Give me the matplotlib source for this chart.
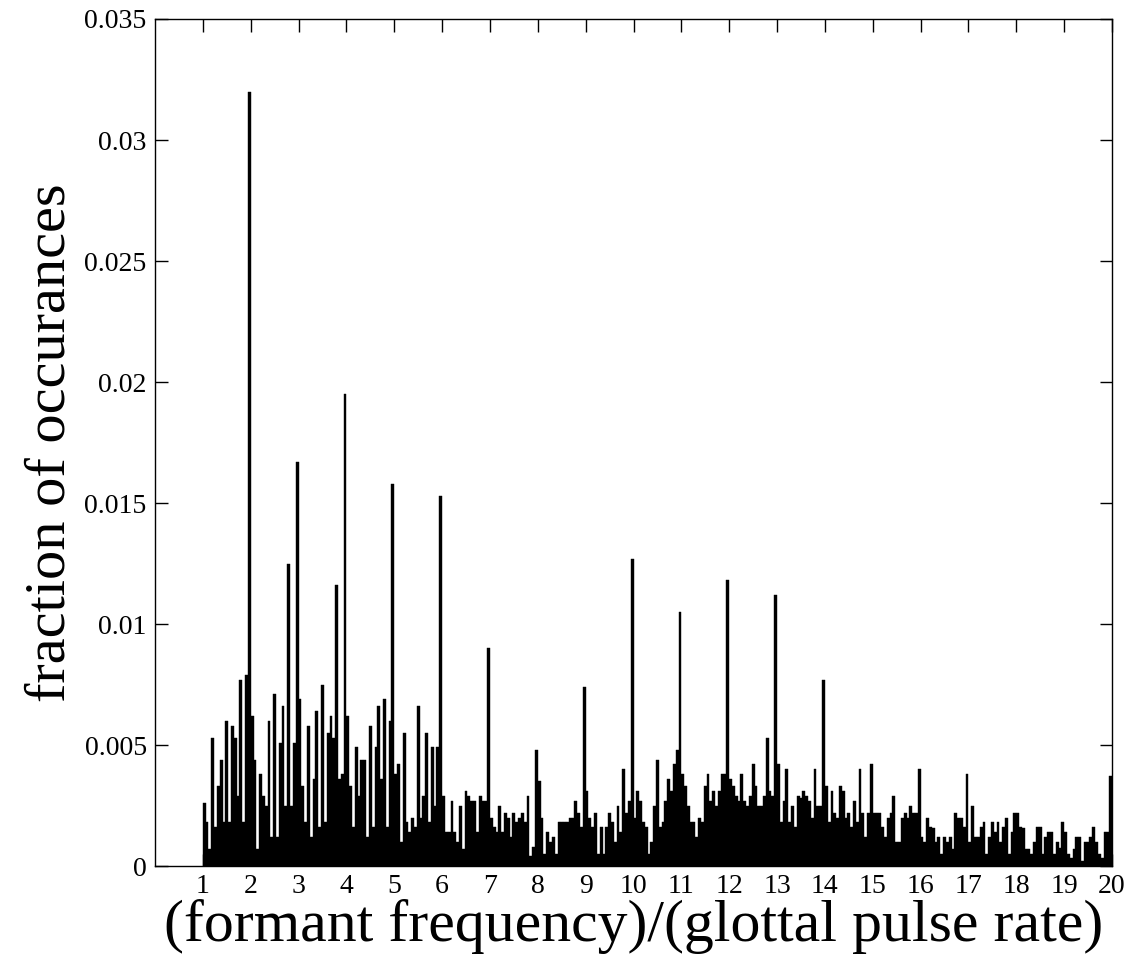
import numpy as np
import matplotlib
matplotlib.use("Agg")
import matplotlib.pyplot as plt

# fraction of occurrences (x 1e-3), 17 bins per unit ratio, from 1 to 20
r01 = [2.6, 1.8, 0.7, 5.3, 1.6, 3.3, 4.4, 1.8, 6.0, 1.8, 5.8, 5.3, 2.9, 7.7, 1.8, 7.9, 32.0]
r02 = [6.2, 4.4, 0.7, 3.8, 2.9, 2.5, 6.0, 1.2, 7.1, 1.2, 5.1, 6.6, 2.5, 12.5, 2.5, 5.1, 16.7]
r03 = [6.9, 3.3, 1.8, 5.8, 1.2, 3.6, 6.4, 1.6, 7.5, 1.8, 5.5, 6.2, 5.3, 11.6, 3.6, 3.8, 19.5]
r04 = [6.2, 3.3, 1.6, 4.9, 2.9, 4.4, 4.4, 1.2, 5.8, 1.6, 4.9, 6.6, 3.6, 6.9, 1.6, 6.0, 15.8]
r05 = [3.8, 4.2, 1.0, 5.5, 1.8, 1.4, 2.0, 1.6, 6.6, 2.0, 2.9, 5.5, 1.8, 4.9, 2.5, 4.9, 15.3]
r06 = [2.9, 1.4, 1.4, 2.7, 1.4, 1.0, 2.5, 0.7, 3.1, 2.9, 2.7, 2.7, 1.4, 2.9, 2.7, 2.7, 9.0]
r07 = [2.0, 1.6, 1.4, 2.5, 1.4, 2.2, 2.0, 1.2, 2.2, 1.8, 2.0, 2.2, 1.8, 2.9, 0.4, 0.8, 4.8]
r08 = [3.5, 2.0, 0.5, 1.4, 1.0, 1.2, 0.5, 1.8, 1.8, 1.8, 1.8, 2.0, 2.0, 2.7, 2.2, 1.6, 7.4]
r09 = [3.1, 2.0, 1.6, 2.2, 0.5, 1.6, 0.5, 1.6, 2.2, 1.8, 1.0, 2.5, 1.4, 4.0, 2.2, 2.7, 12.7]
r10 = [2.0, 3.1, 2.7, 1.8, 1.6, 0.5, 1.0, 2.5, 4.4, 1.6, 1.8, 2.7, 3.6, 3.1, 4.2, 4.8, 10.5]
r11 = [3.8, 3.3, 2.5, 1.8, 1.8, 1.2, 2.0, 1.8, 3.3, 3.8, 2.7, 3.1, 2.5, 3.1, 3.8, 3.8, 11.8]
r12 = [3.6, 3.3, 2.9, 2.7, 3.8, 2.7, 2.5, 2.9, 4.2, 3.3, 2.5, 2.5, 2.9, 5.3, 3.1, 2.9, 11.2]
r13 = [4.2, 1.8, 2.7, 4.0, 1.8, 2.5, 1.6, 2.9, 2.8, 3.1, 2.9, 2.7, 2.0, 4.0, 2.5, 2.5, 7.7]
r14 = [3.3, 1.8, 3.1, 2.2, 2.0, 3.3, 3.1, 2.0, 2.2, 1.6, 2.7, 1.8, 4.0, 2.2, 1.2, 2.2, 4.2]
r15 = [2.2, 2.2, 2.2, 1.6, 1.2, 2.0, 2.2, 2.9, 1.0, 1.0, 2.0, 2.2, 2.0, 2.5, 2.2, 2.2, 4.0]
r16 = [1.2, 1.0, 2.0, 1.6, 1.55, 1.0, 1.2, 0.5, 1.2, 1.0, 1.2, 0.7, 2.2, 2.0, 2.0, 1.6, 3.8]
r17 = [1.0, 2.5, 1.2, 1.2, 1.6, 1.8, 0.5, 1.2, 1.8, 1.4, 1.8, 1.0, 1.6, 2.0, 0.5, 1.4, 2.2]
r18 = [2.2, 1.6, 1.55, 0.7, 0.7, 0.5, 1.0, 1.6, 1.6, 0.5, 1.2, 1.4, 1.4, 0.5, 1.0, 0.75, 1.8]
r19 = [1.4, 0.5, 0.33, 0.7, 1.2, 1.2, 0.2, 1.0, 1.0, 1.2, 1.6, 1.0, 0.5, 0.33, 1.4, 1.4, 3.7]

bins_per_unit = 17
x_start = 1.0
x_ticks = list(range(1, 21))
y_ticks = [0, 0.005, 0.01, 0.015, 0.02, 0.025, 0.03, 0.035]
y_ticklabels = ["0", "0.005", "0.01", "0.015", "0.02", "0.025", "0.03", "0.035"]

values = np.array(r01 + r02 + r03 + r04 + r05 + r06 + r07 + r08 + r09 + r10 +
                  r11 + r12 + r13 + r14 + r15 + r16 + r17 + r18 + r19) * 1e-3
width = 1.0 / bins_per_unit
lefts = x_start + np.arange(len(values)) * width

plt.rcParams['font.family'] = ['Liberation Serif', 'DejaVu Serif']

fig = plt.figure(figsize=(11.34, 9.63), dpi=100)
ax = fig.add_axes([155 / 1134, (963 - 866) / 963, 957 / 1134, 847 / 963])
ax.bar(lefts, values, width=width, align='edge', color='black',
       edgecolor='black', linewidth=0.3)

ax.set_xlim(0, 20)
ax.set_ylim(0, 0.035)
ax.set_xticks(x_ticks)
ax.set_xticklabels([str(t) for t in x_ticks])
ax.set_yticks(y_ticks)
ax.set_yticklabels(y_ticklabels)
ax.tick_params(direction='in', length=9, width=1, labelsize=20,
               top=True, right=True, pad=6)
for s in ax.spines.values():
    s.set_linewidth(1.0)

ax.set_xlabel("(formant frequency)/(glottal pulse rate)", fontsize=43, labelpad=0)
ax.set_ylabel("fraction of occurances", fontsize=42, labelpad=6)

fig.savefig("out.png", dpi=100)
